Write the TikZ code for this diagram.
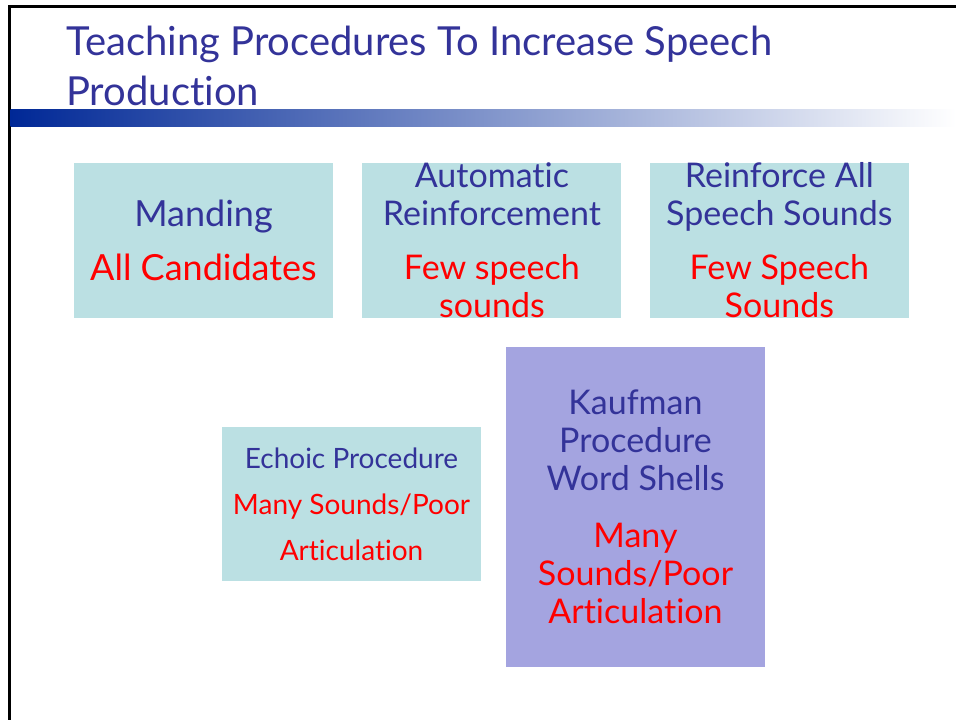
\documentclass[tikz,border=0pt]{standalone}
\usepackage{fontspec}
\setmainfont{Lato}[Ligatures=NoCommon]
\usepackage{xcolor}
\usetikzlibrary{positioning}

\definecolor{slideblue}{RGB}{51,51,153}
\definecolor{boxcyan}{RGB}{187,224,227}
\definecolor{boxlilac}{RGB}{164,164,224}
\definecolor{barblue}{RGB}{0,40,150}
\definecolor{barmid}{RGB}{172,176,212}

\begin{document}
\begin{tikzpicture}[
    x=1pt, y=-1pt,
    node distance=29pt,
    procbox/.style={fill=boxcyan, minimum width=259pt, minimum height=155pt,
                    inner sep=0pt},
    kaufbox/.style={fill=boxlilac, minimum width=259pt, minimum height=320pt,
                    inner sep=0pt},
    proctext/.style={align=center, inner sep=0pt, text=slideblue,
                     font=\fontsize{34}{38}\selectfont},
    redtxt/.style={text=red}
]
\useasboundingbox (0,0) rectangle (956,720);

% slide frame and title bar
\draw[line width=3pt] (9,720) -- (9,6) -- (956,6);
\shade[left color=barblue, middle color=barmid, right color=white]
    (10.5,109) rectangle (956,126);
\node[anchor=base west, align=left, inner sep=0pt, text=slideblue,
      font=\fontsize{40}{50}\selectfont] (title) at (66,105)
    {Teaching Procedures To Increase Speech\\Production};

% top row
\node[procbox] (mand) at (203.5,240.5) {};
\node[procbox, right=of mand] (autom) {};
\node[procbox, right=28pt of autom] (reinf) {};

\node[proctext, font=\fontsize{36}{40}\selectfont] (mand-t) at (mand)
    {Manding\\[14pt]\textcolor{red}{All Candidates}};
\node[proctext] (autom-t) at (autom)
    {Automatic\\Reinforcement\\[16pt]\textcolor{red}{Few speech}\\\textcolor{red}{sounds}};
\node[proctext] (reinf-t) at (reinf)
    {Reinforce All\\Speech Sounds\\[16pt]\textcolor{red}{Few Speech}\\\textcolor{red}{Sounds}};

% bottom row
\node[kaufbox] (kauf) at (635.5,507) {};
\node[procbox, minimum height=154pt] (echo) at (351.5,504) {};

\node[proctext, font=\fontsize{28}{46}\selectfont] (echo-t) at (echo)
    {Echoic Procedure\\\textcolor{red}{Many Sounds/Poor}\\\textcolor{red}{Articulation}};
\node[proctext] (kauf-t) at (kauf)
    {Kaufman\\Procedure\\Word Shells\\[19pt]\textcolor{red}{Many}\\
     \textcolor{red}{Sounds/Poor}\\\textcolor{red}{Articulation}};
\end{tikzpicture}
\end{document}
